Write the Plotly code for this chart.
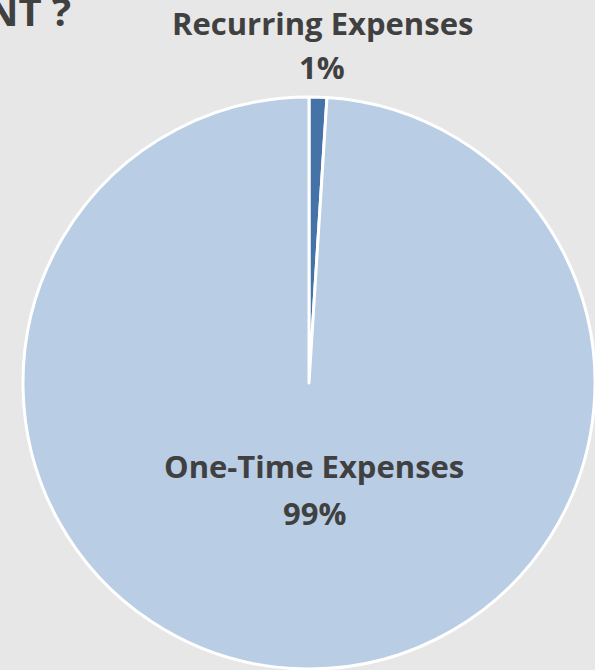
import plotly.graph_objects as go

labels = ["Recurring Expenses", "One-Time Expenses"]
values = [1, 99]
colors = ["#4572a7", "#b9cde5"]

W, H = 595, 670
fig = go.Figure()
fig.add_trace(go.Pie(
    labels=labels, values=values, sort=False, direction="clockwise", rotation=0,
    marker=dict(colors=colors, line=dict(color="white", width=3)),
    textinfo="none", hoverinfo="label+percent", showlegend=False,
    domain=dict(x=[23 / W, 1.0], y=[1 / H, 1 - 97 / H]),
))

pct = [round(v / sum(values) * 100) for v in values]
font = dict(family="Open Sans, Noto Sans, sans-serif", size=31, color="#404040")
label_pos = [(322, 23, 67), (314, 466, 513)]
for lab, p, (x, y1, y2) in zip(labels, pct, label_pos):
    fig.add_annotation(x=x / W, y=1 - y1 / H, xref="paper", yref="paper",
                       text=f"<b>{lab}</b>", showarrow=False, font=font,
                       xanchor="center", yanchor="middle")
    fig.add_annotation(x=x / W, y=1 - y2 / H, xref="paper", yref="paper",
                       text=f"<b>{p}%</b>", showarrow=False, font=font,
                       xanchor="center", yanchor="middle")

fig.add_annotation(x=73 / W, y=1 - 10 / H, xref="paper", yref="paper",
                   text="<b>NT ?</b>", showarrow=False,
                   font=dict(family="Open Sans, Noto Sans, sans-serif", size=40, color="#404040"),
                   xanchor="right", yanchor="middle")

fig.update_layout(width=W, height=H, margin=dict(l=0, r=0, t=0, b=0),
                  paper_bgcolor="#e7e7e7", plot_bgcolor="#e7e7e7")
fig.write_html("out.html", config={"displayModeBar": False},
               post_script="document.body.style.margin='0';document.body.style.overflow='hidden';")
